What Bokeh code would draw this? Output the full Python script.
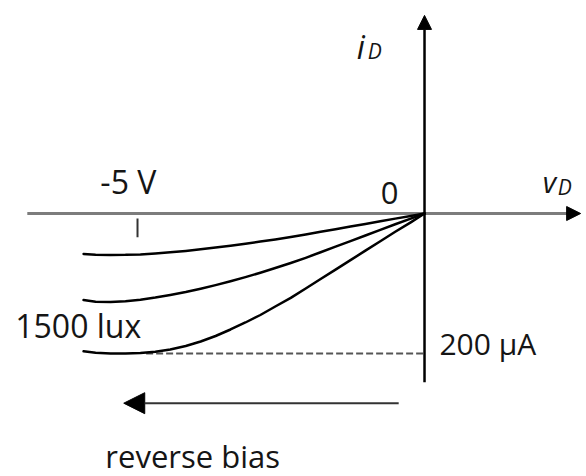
from bokeh.plotting import figure
from bokeh.models import Arrow, NormalHead, ColumnDataSource
from bokeh.core.properties import value
from bokeh.embed import file_html
from bokeh.resources import INLINE

# Photodiode reverse-bias characteristic (v_D in volts, i_D in microamps)
vd = [-5.94, -5.73, -5.47, -5.21, -4.95, -4.69, -4.43, -4.16, -3.90, -3.64, -3.38, -3.12,
      -2.86, -2.60, -2.33, -2.07, -1.81, -1.55, -1.29, -1.03, -0.77, -0.51, -0.24, 0.0]
id_low = [-57.9, -58.9, -59.3, -59.1, -58.4, -57.1, -55.4, -53.4, -51.1, -48.7, -46.0, -43.1,
          -40.1, -37.0, -33.6, -29.9, -26.1, -22.4, -18.6, -14.9, -11.0, -7.3, -3.6, 0.0]
id_mid = [-123.6, -126.0, -126.4, -125.3, -123.1, -120.1, -116.4, -112.1, -107.4, -102.3, -96.7, -90.9,
          -84.6, -77.9, -70.7, -63.3, -55.4, -47.4, -39.4, -31.4, -23.4, -15.4, -7.4, 0.0]
id_high = [-196.9, -198.9, -200.0, -200.0, -199.4, -197.6, -194.3, -189.3, -182.9, -175.0, -165.7, -155.7,
           -145.0, -132.9, -120.6, -107.1, -93.6, -80.1, -66.6, -53.1, -39.6, -26.1, -12.6, 0.0]

tick_v = -5
tick_label = "-5 V"
origin_label = "0"
high_label = "1500 lux"
current_label = "200 µA"
current_level = -200
bias_label = "reverse bias"

# axis extents (data units)
h_axis = (-6.92, 2.72)
v_axis = (-241, 283)
bias_arrow = (-0.45, -5.24, -271)

FONT = value("Open Sans")
INK = "#151515"

p = figure(width=586, height=476, output_backend="svg", toolbar_location=None,
           x_range=(-7.387, 2.822), y_range=(-375.71, 304.29),
           x_axis_location=None, y_axis_location=None, min_border=0,
           background_fill_color="white", border_fill_color="white")
p.outline_line_color = None
p.xgrid.visible = False
p.ygrid.visible = False

# horizontal (v_D) axis
p.segment(x0=[h_axis[0]], y0=[0], x1=[h_axis[1] - 0.2], y1=[0], line_color="#7c7c7c", line_width=3)
p.add_layout(Arrow(end=NormalHead(size=14, fill_color="black", line_color="black"),
                   x_start=h_axis[1] - 0.25, y_start=0, x_end=h_axis[1], y_end=0,
                   line_color="black", line_width=2))

# vertical (i_D) axis
p.add_layout(Arrow(end=NormalHead(size=14, fill_color="black", line_color="black"),
                   x_start=0, y_start=v_axis[0], x_end=0, y_end=v_axis[1],
                   line_color="black", line_width=2.5))

# -5 V tick
p.segment(x0=[tick_v], y0=[-7], x1=[tick_v], y1=[-34], line_color="#333333", line_width=2)

# 200 µA reference
p.line(x=[vd[4] + 0.1, 0], y=[current_level, current_level], line_color="#555555",
       line_width=2, line_dash="7 3")

# characteristic curves
src = ColumnDataSource(dict(v=vd, a=id_low, b=id_mid, c=id_high))
for col in ("a", "b", "c"):
    p.line(x="v", y=col, source=src, line_color="black", line_width=2.5,
           line_join="round", line_cap="round")

# reverse bias arrow
p.add_layout(Arrow(end=NormalHead(size=21, fill_color="black", line_color="black"),
                   x_start=bias_arrow[0], y_start=bias_arrow[2],
                   x_end=bias_arrow[1], y_end=bias_arrow[2],
                   line_color="#333333", line_width=2))

def put(x, y, txt, size, align="left", style="normal"):
    p.text(x=[x], y=[y], text=[txt], text_font=FONT, text_font_size=value(size),
           text_color=INK, text_align=align, text_baseline="alphabetic",
           text_font_style=style)

put(-5.16, 45.6, tick_label, "32px", align="center")
put(-0.61, 29.9, origin_label, "31px", align="center")
put(-7.13, -160, high_label, "32px")
put(0.26, -186, current_label, "30px")
put(-5.56, -346, bias_label, "31px")

# axis names
put(-1.18, 238.6, "i", "32px", style="italic")
put(-0.99, 232.7, "D", "21px", style="italic")
put(2.06, 45.6, "v", "29px", style="italic")
put(2.32, 38.4, "D", "21px", style="italic")

open("out.html", "w").write(file_html(p, INLINE))
